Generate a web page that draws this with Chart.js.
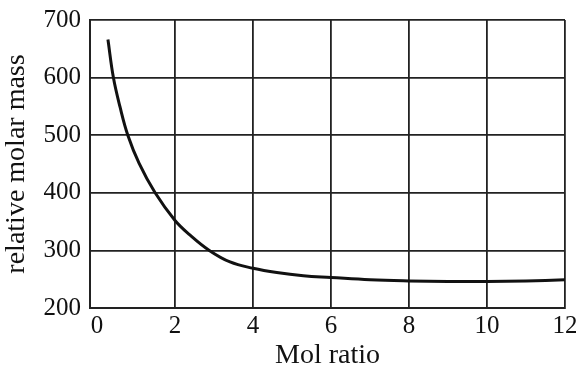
<!DOCTYPE html>
<html lang="en">
<head>
    <meta charset="UTF-8">
    <title>Relative molar mass vs mol ratio</title>
    <style>
        body {
            margin: 0;
            padding: 0;
            background: #fff;
        }
        #wrap {
            width: 576px;
            height: 372px;
        }
    </style>
</head>
<body>
    <div id="wrap">
        <canvas id="massChart"></canvas>
    </div>

    <script src="https://cdn.jsdelivr.net/npm/chart.js"></script>
    <script>
        // values
        const molRatio = [0.28, 0.42, 0.59, 0.79, 1.08, 1.49, 2.0, 2.38, 2.88, 3.41, 4.0, 4.61, 5.29, 6, 7, 8, 9, 10, 11, 12];
        const molarMass = [666, 600, 549, 500, 451, 400, 352, 327, 300, 280, 269, 261.5, 256, 253, 249, 247, 246, 246, 247, 249];
        const xTicks = [0, 2, 4, 6, 8, 10, 12];
        const yTicks = [200, 300, 400, 500, 600, 700];

        const serif = "Liberation Serif, serif";
        const ink = '#111';

        const points = molRatio.map((x, i) => ({ x: x, y: molarMass[i] }));

        new Chart(document.getElementById('massChart'), {
            type: 'line',
            data: {
                datasets: [{
                    data: points,
                    borderColor: ink,
                    borderWidth: 3,
                    pointRadius: 0,
                    tension: 0.4,
                    fill: false
                }]
            },
            options: {
                responsive: true,
                maintainAspectRatio: false,
                animation: false,
                layout: {
                    padding: 0
                },
                plugins: {
                    legend: { display: false },
                    tooltip: { enabled: false }
                },
                scales: {
                    x: {
                        type: 'linear',
                        min: -0.18,
                        max: 12,
                        afterBuildTicks: (scale) => {
                            scale.ticks = xTicks.map(v => ({ value: v }));
                        },
                        afterFit: (scale) => {
                            scale.height = 64;
                            scale.paddingLeft = 0;
                            scale.paddingRight = 11;
                        },
                        grid: {
                            color: (ctx) => ctx.tick && ctx.tick.value === 0 ? 'rgba(0,0,0,0)' : '#222',
                            lineWidth: 1.8,
                            drawTicks: false
                        },
                        border: { display: true, color: '#222', width: 2 },
                        ticks: {
                            color: ink,
                            font: { family: serif, size: 25 },
                            padding: 3,
                            maxRotation: 0
                        },
                        title: {
                            display: true,
                            text: 'Mol ratio',
                            color: ink,
                            font: { family: serif, size: 28 },
                            padding: { top: 0, bottom: 0 }
                        }
                    },
                    y: {
                        min: 200,
                        max: 700,
                        afterBuildTicks: (scale) => {
                            scale.ticks = yTicks.map(v => ({ value: v }));
                        },
                        afterFit: (scale) => {
                            scale.width = 90;
                            scale.paddingTop = 20;
                            scale.paddingBottom = 0;
                        },
                        grid: {
                            color: '#222',
                            lineWidth: 1.8,
                            drawTicks: false
                        },
                        border: { display: true, color: '#222', width: 2 },
                        ticks: {
                            color: ink,
                            font: { family: serif, size: 25 },
                            padding: 9
                        },
                        title: {
                            display: true,
                            text: 'relative molar mass',
                            color: ink,
                            font: { family: serif, size: 28 },
                            padding: { top: 0, bottom: 0 }
                        }
                    }
                }
            }
        });
    </script>
</body>
</html>
